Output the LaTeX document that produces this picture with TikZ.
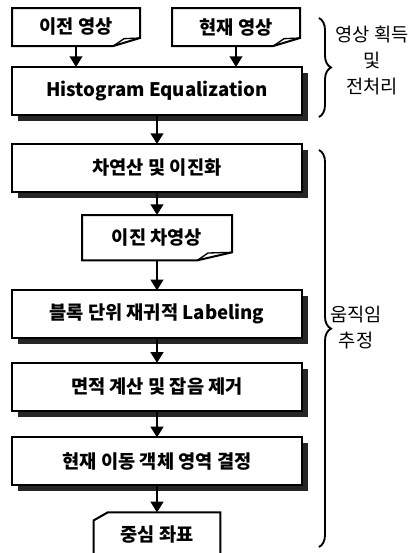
\documentclass[tikz,border=0pt]{standalone}
\usepackage{fontspec}
\setmainfont{Noto Sans CJK KR}
\usepackage{tikz}
\usetikzlibrary{positioning,shadows,arrows.meta,decorations.pathreplacing}

% outline of a document node with a folded corner
\newcommand\docoutline[2]{%
  \draw[docline] (#1.north west) -- (#1.north east) -- ([yshift=6pt]#1.south east)
    -- ([xshift=-#2]#1.south east) -- (#1.south west) -- cycle;
  \draw[docline, line width=1pt] ([xshift=-#2]#1.south east)
    -- ([xshift=-#2+8pt,yshift=5.5pt]#1.south east) -- ([yshift=6pt]#1.south east);
}

\begin{document}
\begin{tikzpicture}
[x=0.75pt, y=-0.75pt,
    font=\fontsize{14pt}{17pt}\selectfont\bfseries,
    every node/.style={outer sep=0pt},
    procbox/.style={rectangle, draw=black, line width=1.5pt, fill=white,
    minimum width=217pt, minimum height=36pt,
    drop shadow={shadow xshift=4.5pt, shadow yshift=-4.5pt, fill=black!85, opacity=1}},
    docbox/.style={rectangle, inner sep=0pt},
    docline/.style={line width=1.5pt, line join=miter},
    flow/.style={line width=1.5pt, -{Triangle[width=9.5pt,length=8pt]}},
    grp/.style={decorate, decoration={brace, amplitude=9pt}, line width=1.4pt},
    grplabel/.style={align=center, font=\fontsize{14pt}{19.5pt}\selectfont}
    ]

    \useasboundingbox (0,0) rectangle (417,553);
    \clip (0,0) rectangle (417,553);

    % input images
    \node[docbox, minimum width=96pt, minimum height=28.5pt] (prev) at (76,27) {이전 영상};
    \node[docbox, minimum width=96pt, minimum height=28.5pt] (cur) at (236,27) {현재 영상};
    \docoutline{prev}{20pt}
    \docoutline{cur}{20pt}

    % main column
    \node[procbox] (hist) at (157,91) {Histogram Equalization};
    \node[procbox, below=21.75pt of hist] (diff) {차연산 및 이진화};
    \node[docbox, minimum width=112.5pt, minimum height=34pt, below=17.25pt of diff] (bin) {이진 차영상};
    \docoutline{bin}{26pt}
    \node[procbox, below=22.5pt of bin] (label) {블록 단위 재귀적 Labeling};
    \node[procbox, below=18.4pt of label] (area) {면적 계산 및 잡음 제거};
    \node[procbox, below=19.9pt of area] (obj) {현재 이동 객체 영역 결정};
    \node[docbox, minimum width=95pt, minimum height=33pt, below=20.25pt of obj] (cent) {중심 좌표};
    \draw[docline] ([xshift=10.5pt]cent.north west) -- (cent.north east) -- (cent.south east)
        -- (cent.south west) -- ([yshift=-6pt]cent.north west) -- cycle;

    % connectors
    \draw[flow] (prev.south) -- (prev.south |- hist.north);
    \draw[flow] (cur.south) -- (cur.south |- hist.north);
    \draw[flow] (hist.south) -- (diff.north);
    \draw[flow] (diff.south) -- (bin.north);
    \draw[flow] (bin.south) -- (label.north);
    \draw[flow] (label.south) -- (area.north);
    \draw[flow] (area.south) -- (obj.north);
    \draw[flow] (obj.south) -- (cent.north);

    % groups
    \coordinate (g1top) at (319,18);
    \coordinate (g1bot) at (319,117);
    \coordinate (g2top) at (319,150);
    \coordinate (g2bot) at (319,547);
    \draw[grp] (g1top) -- (g1bot);
    \draw[grp, decoration={aspect=0.45}] (g2top) -- (g2bot);
    \node[grplabel] (g1) at (372,60) {영상 획득\\및\\전처리};
    \node[grplabel] (g2) at (356,328) {움직임\\추정};
\end{tikzpicture}
\end{document}
